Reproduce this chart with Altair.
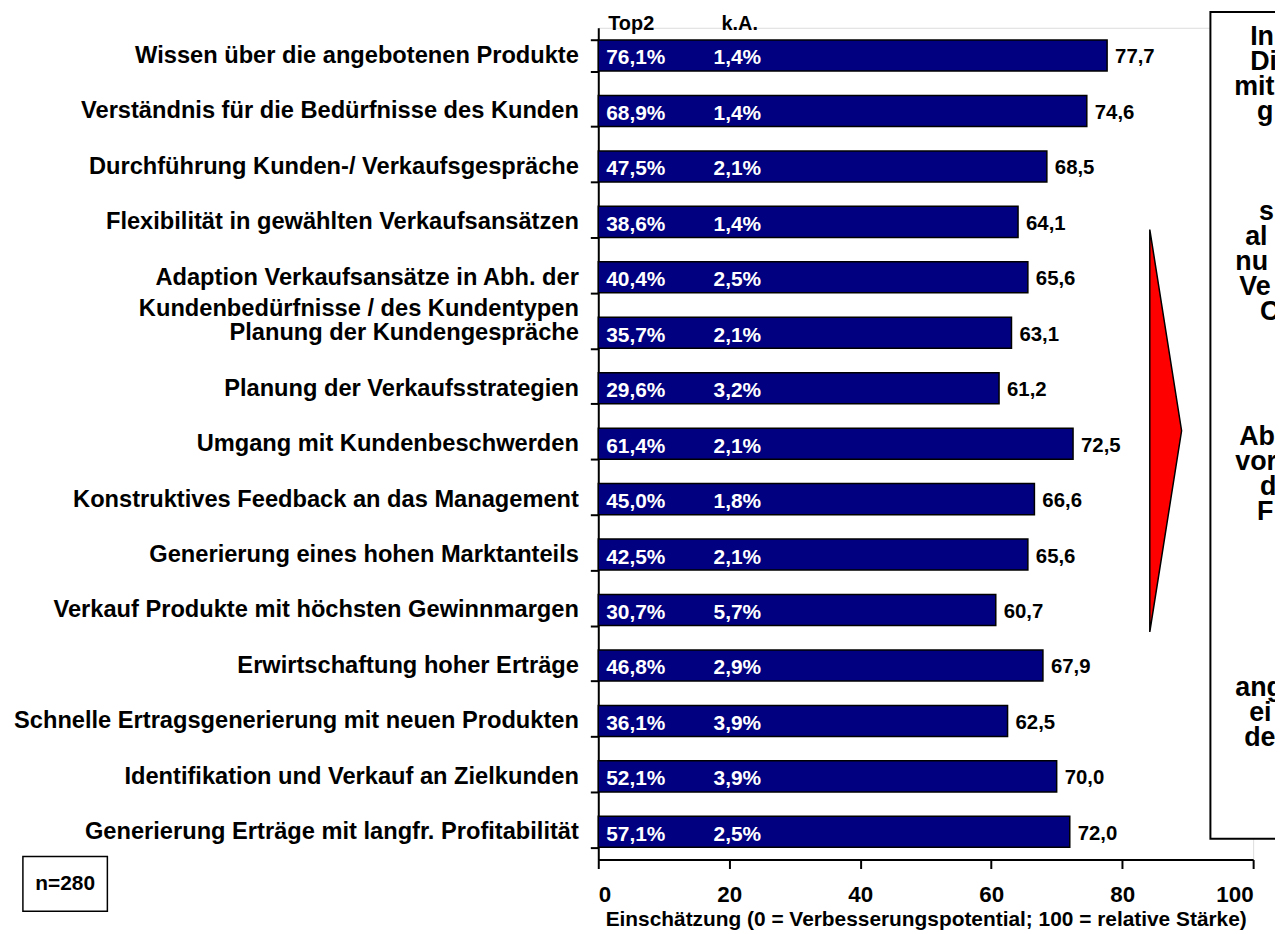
import altair as alt
import pandas as pd

FONT = "Liberation Sans"

categories = [
    "Wissen über die angebotenen Produkte",
    "Verständnis für die Bedürfnisse des Kunden",
    "Durchführung Kunden-/ Verkaufsgespräche",
    "Flexibilität in gewählten Verkaufsansätzen",
    "Adaption Verkaufsansätze in Abh. der|Kundenbedürfnisse / des Kundentypen",
    "Planung der Kundengespräche",
    "Planung der Verkaufsstrategien",
    "Umgang mit Kundenbeschwerden",
    "Konstruktives Feedback an das Management",
    "Generierung eines hohen Marktanteils",
    "Verkauf Produkte mit höchsten Gewinnmargen",
    "Erwirtschaftung hoher Erträge",
    "Schnelle Ertragsgenerierung mit neuen Produkten",
    "Identifikation und Verkauf an Zielkunden",
    "Generierung Erträge mit langfr. Profitabilität",
]
scores = [77.7, 74.6, 68.5, 64.1, 65.6, 63.1, 61.2, 72.5, 66.6, 65.6, 60.7, 67.9, 62.5, 70.0, 72.0]
top2 = [76.1, 68.9, 47.5, 38.6, 40.4, 35.7, 29.6, 61.4, 45.0, 42.5, 30.7, 46.8, 36.1, 52.1, 57.1]
ka = [1.4, 1.4, 2.1, 1.4, 2.5, 2.1, 3.2, 2.1, 1.8, 2.1, 5.7, 2.9, 3.9, 3.9, 2.5]
x_ticks = [0, 20, 40, 60, 80, 100]
x_title = "Einschätzung (0 = Verbesserungspotential; 100 = relative Stärke)"
header_top2 = "Top2"
header_ka = "k.A."
n_label = "n=280"
# visible (cut) fragments of the side note box, with their line numbers
note_fragments = ["In", "Di", "mit", "g", "s", "al", "nu", "Ve", "C", "Ab", "vor", "d", "F", "ang", "ei", "de"]
note_lines = [0, 1, 2, 3, 7, 8, 9, 10, 11, 16, 17, 18, 19, 26, 27, 28]
note_left = [1258, 1258, 1242, 1265, 1267, 1253, 1243, 1247, 1268, 1247, 1243, 1268, 1265, 1243, 1257, 1252]


def de(v, pct=False):
    s = f"{v:.1f}".replace(".", ",")
    return s + "%" if pct else s


df = pd.DataFrame({
    "cat": categories,
    "score": scores,
    "label": [de(v) for v in scores],
    "top2": [de(v, True) for v in top2],
    "ka": [de(v, True) for v in ka],
})
deco = pd.DataFrame({"k": [0]})

PX0, PY0 = 602, 25  # page position of the plot origin

y_enc = alt.Y(
    "cat:N", sort=categories,
    scale=alt.Scale(paddingInner=0.44, paddingOuter=0.22),
    axis=alt.Axis(
        title=None, tickBand="extent", labelExpr="split(datum.label, '|')",
        labelLineHeight=31, labelFontSize=23.8, labelFontWeight="bold", labelFont=FONT,
        labelColor="black", labelPadding=12, labelLimit=700, tickSize=8, tickWidth=2,
        tickColor="black", domainWidth=2, domainColor="black",
    ),
)
x_enc = alt.X(
    "score:Q",
    scale=alt.Scale(domain=[0, 100], nice=False),
    axis=alt.Axis(
        values=x_ticks, grid=False, title=x_title, titleFont=FONT, titleFontSize=21,
        titleFontWeight="bold", titleColor="black", titlePadding=3,
        labelFont=FONT, labelFontSize=22.5, labelFontWeight="bold", labelColor="black",
        labelPadding=15, tickSize=9, tickWidth=2, tickColor="black",
        domainWidth=2, domainColor="black",
    ),
)

bars = alt.Chart(df).mark_bar(color="#000080", stroke="black", strokeWidth=1.5).encode(x=x_enc, y=y_enc)

vals = alt.Chart(df).mark_text(
    align="left", baseline="middle", dx=8, dy=2, fontSize=20.5, fontWeight="bold", font=FONT, color="black"
).encode(x="score:Q", y=alt.Y("cat:N", sort=categories), text="label:N")

in_top2 = alt.Chart(df).mark_text(
    align="left", baseline="middle", dy=3, fontSize=21, fontWeight="bold", font=FONT, color="white"
).encode(x=alt.value(8), y=alt.Y("cat:N", sort=categories), text="top2:N")

in_ka = alt.Chart(df).mark_text(
    align="left", baseline="middle", dy=3, fontSize=21, fontWeight="bold", font=FONT, color="white"
).encode(x=alt.value(116), y=alt.Y("cat:N", sort=categories), text="ka:N")

head_style = dict(align="left", baseline="alphabetic", fontSize=20, fontWeight="bold", font=FONT, color="black")
h1 = alt.Chart(deco).mark_text(**head_style).encode(x=alt.value(10), y=alt.value(2), text=alt.value(header_top2))
h2 = alt.Chart(deco).mark_text(**head_style).encode(x=alt.value(124), y=alt.value(2), text=alt.value(header_ka))

note_box = alt.Chart(deco).mark_rect(fill="white", stroke="black", strokeWidth=2).encode(
    x=alt.value(1218 - PX0), x2=alt.value(1400 - PX0), y=alt.value(9 - PY0), y2=alt.value(841 - PY0)
)
note_layers = []
for frag, line, left in zip(note_fragments, note_lines, note_left):
    note_layers.append(
        alt.Chart(deco).mark_text(
            align="left", baseline="alphabetic", fontSize=27, fontWeight="bold", font=FONT, color="black"
        ).encode(x=alt.value(left - PX0), y=alt.value(42 + 25.2 * line - PY0), text=alt.value(frag))
    )

tri_path = "M -0.079 -1 L 0.079 0 L -0.079 1 Z"
arrow = alt.Chart(deco).mark_point(
    shape=tri_path, size=405 ** 2, filled=True, fill="#FF0000", stroke="black", strokeWidth=1.5, opacity=1
).encode(x=alt.value(1173 - PX0), y=alt.value(430.5 - PY0))

n_box = alt.Chart(deco).mark_rect(fill="white", stroke="black", strokeWidth=1.5).encode(
    x=alt.value(23 - PX0), x2=alt.value(108 - PX0), y=alt.value(859 - PY0), y2=alt.value(914 - PY0)
)
n_text = alt.Chart(deco).mark_text(
    align="center", baseline="middle", fontSize=21, fontWeight="bold", font=FONT, color="black"
).encode(x=alt.value(65.5 - PX0), y=alt.value(887 - PY0), text=alt.value(n_label))

chart = alt.layer(
    bars, vals, in_top2, in_ka, h1, h2, note_box, *note_layers, arrow, n_box, n_text
).properties(
    width=659, height=837,
    padding={"left": 594, "top": 17, "right": 22, "bottom": 72},
    autosize=alt.AutoSizeParams(type="none"),
).configure_view(stroke=None).configure(font=FONT)

chart.save("out.html", embed_options={"renderer": "svg", "actions": False})
